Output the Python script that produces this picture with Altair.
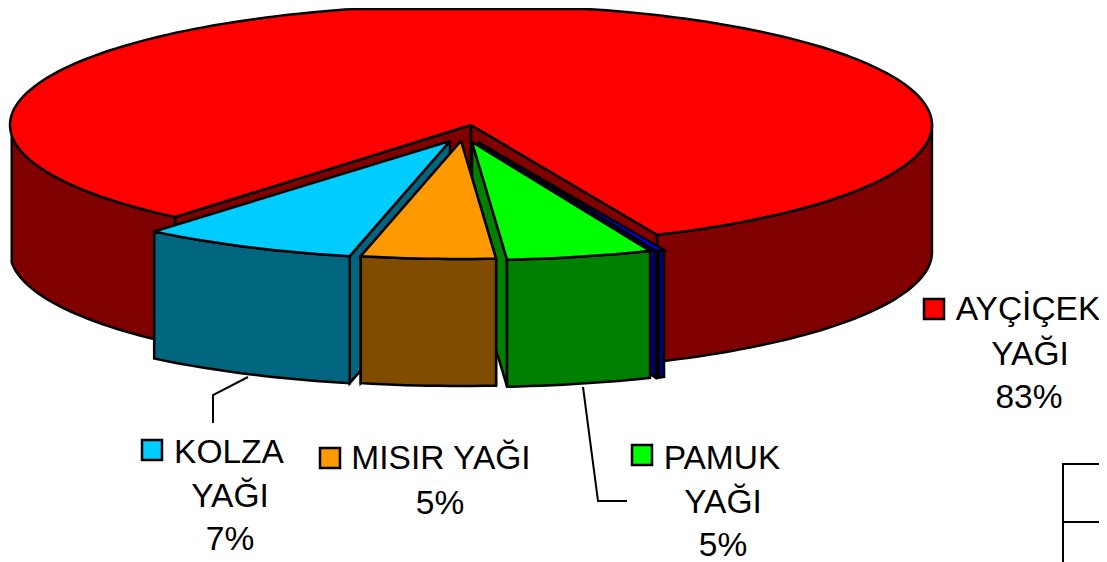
import math
import altair as alt
import pandas as pd

# shares in percent, in clockwise order starting at the front right of the pie
slice_names = ["MAVİ", "PAMUK YAĞI", "MISIR YAĞI", "KOLZA YAĞI", "AYÇİÇEK YAĞI"]
slice_shares = [0.3, 5.1, 4.7, 7.6, 82.3]
top_colors = ["#0000ff", "#00ff00", "#ff9900", "#00ccff", "#ff0000"]
side_colors = ["#000080", "#008000", "#804c00", "#006680", "#800000"]
# apex of each exploded slice on the page
apex_x = [478, 472, 461, 450, 471]
apex_y = [142, 142, 141, 141, 125]

START = 66.2
RX = 461
RY_MAIN, RY_PULLED = 120, 118
DEPTH = 127
TOP_LIMIT = 9


def arc(cx, cy, a0, a1, ry, drop=0):
    n = max(2, int(abs(a1 - a0) / 1.5) + 1)
    out = []
    for k in range(n + 1):
        t = math.radians(a0 + (a1 - a0) * k / n)
        out.append((cx + RX * math.cos(t), max(TOP_LIMIT, cy + ry * math.sin(t) + drop)))
    return out


bounds = [START]
for s in slice_shares:
    bounds.append(bounds[-1] + s * 3.6)

faces = []  # (points, fill)


def wall(cx, cy, a, fill, ry):
    p = arc(cx, cy, a, a, ry)[0]
    faces.append(([(cx, cy), p, (p[0], p[1] + DEPTH), (cx, cy + DEPTH)], fill))


def rim(cx, cy, a0, a1, fill, ry):
    top = arc(cx, cy, a0, a1, ry)
    bot = arc(cx, cy, a1, a0, ry, DEPTH)
    faces.append((top + bot, fill))


def wedge(cx, cy, a0, a1, fill, ry):
    faces.append(([(cx, cy)] + arc(cx, cy, a0, a1, ry), fill))


# big slice: walls behind, rim, top
i = 4
a0, a1 = bounds[4], bounds[5]
wall(apex_x[i], apex_y[i], a0, side_colors[i], RY_MAIN)
wall(apex_x[i], apex_y[i], a1, side_colors[i], RY_MAIN)
rim(apex_x[i], apex_y[i], a0, 175, side_colors[i], RY_MAIN)
rim(apex_x[i], apex_y[i], 359, a1, side_colors[i], RY_MAIN)
wedge(apex_x[i], apex_y[i], a0, a1, top_colors[i], RY_MAIN)

# exploded slices, back to front
for i in [0, 1, 3, 2]:
    a0, a1 = bounds[i], bounds[i + 1]
    cx, cy = apex_x[i], apex_y[i]
    wall(cx, cy, a0 if i == 3 else a1, side_colors[i], RY_PULLED)
    if i == 2:
        wall(cx, cy, a0, side_colors[i], RY_PULLED)
    if i == 0:
        mid = a0 + (a1 - a0) * 0.7
        rim(cx, cy, a0, mid, side_colors[i], RY_PULLED)
        rim(cx, cy, mid, a1, side_colors[i], RY_PULLED)
    else:
        rim(cx, cy, a0, a1, side_colors[i], RY_PULLED)
    wedge(cx, cy, a0, a1, top_colors[i], RY_PULLED)

X = alt.X("x:Q", axis=None, scale=alt.Scale(domain=[8, 1099], range=[0, 1091]))
Y = alt.Y("y:Q", axis=None, scale=alt.Scale(domain=[8, 562], range=[0, 554]))

layers = []
for pts, fill in faces:
    closed = pts + [pts[0]]
    df = pd.DataFrame({"x": [p[0] for p in closed], "y": [p[1] for p in closed], "i": range(len(closed))})
    layers.append(
        alt.Chart(df)
        .mark_line(fill=fill, stroke="#000000", strokeWidth=2.5, strokeJoin="miter", clip=False)
        .encode(x=X, y=Y, order="i:Q")
    )

# leader lines and the table fragment at the lower right
lines = [
    [(248, 377), (213, 395), (213, 423)],
    [(583, 387), (598, 501), (627, 501)],
    [(1099, 464), (1063, 464), (1063, 562)],
    [(1063, 522), (1099, 522)],
]
for ln in lines:
    df = pd.DataFrame({"x": [p[0] for p in ln], "y": [p[1] for p in ln], "i": range(len(ln))})
    layers.append(
        alt.Chart(df)
        .mark_line(stroke="#000000", strokeWidth=2, strokeJoin="miter")
        .encode(x=X, y=Y, order="i:Q")
    )

# legend keys
keys = pd.DataFrame(
    {
        "x": [924, 142, 320, 632],
        "x2": [944, 162, 340, 652],
        "y": [299, 440, 448, 445],
        "y2": [319, 460, 468, 465],
        "fill": ["#ff0000", "#00ccff", "#ff9900", "#00ff00"],
    }
)
layers.append(
    alt.Chart(keys)
    .mark_rect(stroke="#000000", strokeWidth=2.5)
    .encode(x=X, x2="x2:Q", y=Y, y2="y2:Q", fill=alt.Fill("fill:N", scale=None))
)

# labels
labels = pd.DataFrame(
    [
        ("AYÇİÇEK", 1028, 320),
        ("YAĞI", 1030, 365),
        ("83%", 1029, 408),
        ("KOLZA", 229, 463),
        ("YAĞI", 230, 507),
        ("7%", 230, 550),
        ("MISIR YAĞI", 441, 469),
        ("5%", 440, 514),
        ("PAMUK", 722, 469),
        ("YAĞI", 723, 513),
        ("5%", 723, 556),
    ],
    columns=["t", "x", "y"],
)
layers.append(
    alt.Chart(labels)
    .mark_text(font="Liberation Sans", fontSize=33.5, color="#000000", align="center", baseline="alphabetic")
    .encode(x=X, y=Y, text="t:N")
)

chart = (
    alt.layer(*layers)
    .properties(width=1091, height=554, padding=0, autosize=alt.AutoSizeParams(type="none"), background="#ffffff")
    .configure_view(stroke=None)
)
chart.save("out.html", embed_options={"renderer": "svg", "actions": False})
